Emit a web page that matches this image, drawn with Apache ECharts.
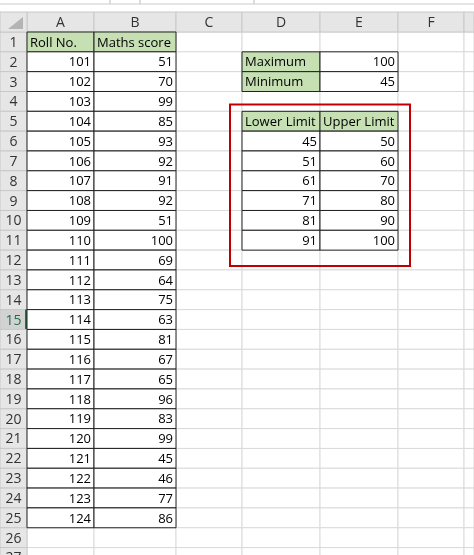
<!DOCTYPE html>
<html><head><meta charset="utf-8">
<script src="https://cdn.jsdelivr.net/npm/echarts@6/dist/echarts.min.js"></script>
<style>html,body{margin:0;padding:0;background:#fff}#c{width:474px;height:555px}</style>
</head><body><div id="c"></div>
<script>
var colLetters = ['A', 'B', 'C', 'D', 'E', 'F'];
var rollNo = [101,102,103,104,105,106,107,108,109,110,111,112,113,114,115,116,117,118,119,120,121,122,123,124];
var mathsScore = [51,70,99,85,93,92,91,92,51,100,69,64,75,63,81,67,65,96,83,99,45,46,77,86];
var statLabels = ['Maximum', 'Minimum'];
var statValues = [100, 45];
var lowerLimits = [45, 51, 61, 71, 81, 91];
var upperLimits = [50, 60, 70, 80, 90, 100];

var chart = echarts.init(document.getElementById('c'));
var colEdges = [0, 27, 94, 176, 242, 320, 398, 464, 474];
var headTop = 12, rowH = 19.83, rowTop = 32;
function rowY(r) { return rowTop + (r - 1) * rowH; }
var FONT = '13px "Open Sans", sans-serif';

// background grid cells [col, row]
var gridData = [];
for (var r = 1; r <= 27; r++) for (var c = 1; c <= 7; c++) gridData.push([c, r]);
// header cells
var headData = [];
for (var c = 1; c <= 7; c++) headData.push([c, 0, colLetters[c - 1] || '']);
for (var r = 1; r <= 27; r++) headData.push([0, r, String(r)]);
headData.push([0, 0, '']);
// table cells [col, row, text, green, align]
var cells = [[1, 1, 'Roll No.', 1, 'left'], [2, 1, 'Maths score', 1, 'left']];
rollNo.forEach(function (v, i) { cells.push([1, i + 2, String(v), 0, 'right']); });
mathsScore.forEach(function (v, i) { cells.push([2, i + 2, String(v), 0, 'right']); });
statLabels.forEach(function (v, i) { cells.push([4, i + 2, v, 1, 'left']); cells.push([5, i + 2, String(statValues[i]), 0, 'right']); });
cells.push([4, 5, 'Lower Limit', 1, 'left']); cells.push([5, 5, 'Upper Limit', 1, 'left']);
lowerLimits.forEach(function (v, i) { cells.push([4, i + 6, String(v), 0, 'right']); cells.push([5, i + 6, String(upperLimits[i]), 0, 'right']); });

function cellRect(api, c, r) {
  var x0 = colEdges[c], x1 = colEdges[c + 1];
  var y0 = r === 0 ? headTop : rowY(r), y1 = r === 0 ? rowTop : rowY(r) + rowH;
  var p0 = api.coord([x0, y0]), p1 = api.coord([x1, y1]);
  return {x: p0[0], y: p0[1], width: p1[0] - p0[0], height: p1[1] - p0[1]};
}

chart.setOption({
  animation: false,
  grid: {left: 0, right: 0, top: 0, bottom: 0},
  xAxis: {type: 'value', min: 0, max: 474, show: false},
  yAxis: {type: 'value', min: 0, max: 555, inverse: true, show: false},
  series: [{
    type: 'custom', data: gridData, silent: true,
    renderItem: function (p, api) {
      var s = cellRect(api, api.value(0), api.value(1));
      return {type: 'rect', shape: s, style: {fill: '#fff', stroke: '#dadada', lineWidth: 1}};
    }
  }, {
    type: 'custom', data: headData, silent: true,
    renderItem: function (p, api) {
      var c = api.value(0), r = api.value(1);
      var s = cellRect(api, c, r);
      var sel = (c === 0 && r === 15);
      var children = [{type: 'rect', shape: s, style: {fill: sel ? '#d2d2d2' : '#e6e6e6', stroke: '#c8c8c8', lineWidth: 1}}];
      if (c === 0 && r === 0) children.push({type: 'polygon', shape: {points: [[s.x + s.width - 4, s.y + 5], [s.x + s.width - 4, s.y + s.height - 3], [s.x + 8, s.y + s.height - 3]]}, style: {fill: '#b4b4b4'}});
      if (sel) children.push({type: 'line', shape: {x1: s.x + s.width - 1, y1: s.y, x2: s.x + s.width - 1, y2: s.y + s.height}, style: {stroke: '#217346', lineWidth: 2}});
      children.push({type: 'text', style: {text: api.value(2), x: s.x + s.width / 2, y: s.y + s.height / 2 + 1, align: 'center', verticalAlign: 'middle', font: '14px "Open Sans", sans-serif', fill: sel ? '#217346' : '#333'}});
      return {type: 'group', children: children};
    }
  }, {
    type: 'custom', data: cells, silent: true,
    dimensions: ['c', 'r', 't', 'g', 'a'],
    encode: {x: 0, y: 1},
    renderItem: function (p, api) {
      var d = cells[p.dataIndex];
      var s = cellRect(api, d[0], d[1]);
      return {type: 'group', children: [
        {type: 'rect', shape: s, style: {fill: d[3] ? '#c6e0b4' : '#fff', stroke: '#222', lineWidth: 1}},
        {type: 'text', style: {text: d[2], x: d[4] === 'left' ? s.x + 3 : s.x + s.width - 3, y: s.y + s.height / 2 + 1, align: d[4], verticalAlign: 'middle', font: FONT, fill: '#000'}}
      ]};
    }
  }, {
    type: 'custom', data: [[3.8, 5.6, 4.65, 12.8]], silent: true,
    renderItem: function (p, api) {
      var x0 = colEdges[4] - 12, x1 = colEdges[6] + 12;
      var p0 = api.coord([x0, rowY(api.value(2))]), p1 = api.coord([x1, rowY(api.value(3))]);
      return {type: 'rect', shape: {x: p0[0], y: p0[1], width: p1[0] - p0[0], height: p1[1] - p0[1]}, style: {fill: 'none', stroke: '#c00000', lineWidth: 2}};
    }
  }],
  graphic: [
    {type: 'rect', left: 0, top: 0, shape: {width: 474, height: 9}, style: {fill: '#fff'}},
    {type: 'line', shape: {x1: 110, y1: 0, x2: 110, y2: 4}, style: {stroke: '#bbb'}},
    {type: 'line', shape: {x1: 140, y1: 0, x2: 140, y2: 4}, style: {stroke: '#bbb'}},
    {type: 'line', shape: {x1: 254, y1: 0, x2: 254, y2: 4}, style: {stroke: '#bbb'}},
    {type: 'line', shape: {x1: 0, y1: 4, x2: 474, y2: 4}, style: {stroke: '#ccc'}}
  ]
});
</script></body></html>
